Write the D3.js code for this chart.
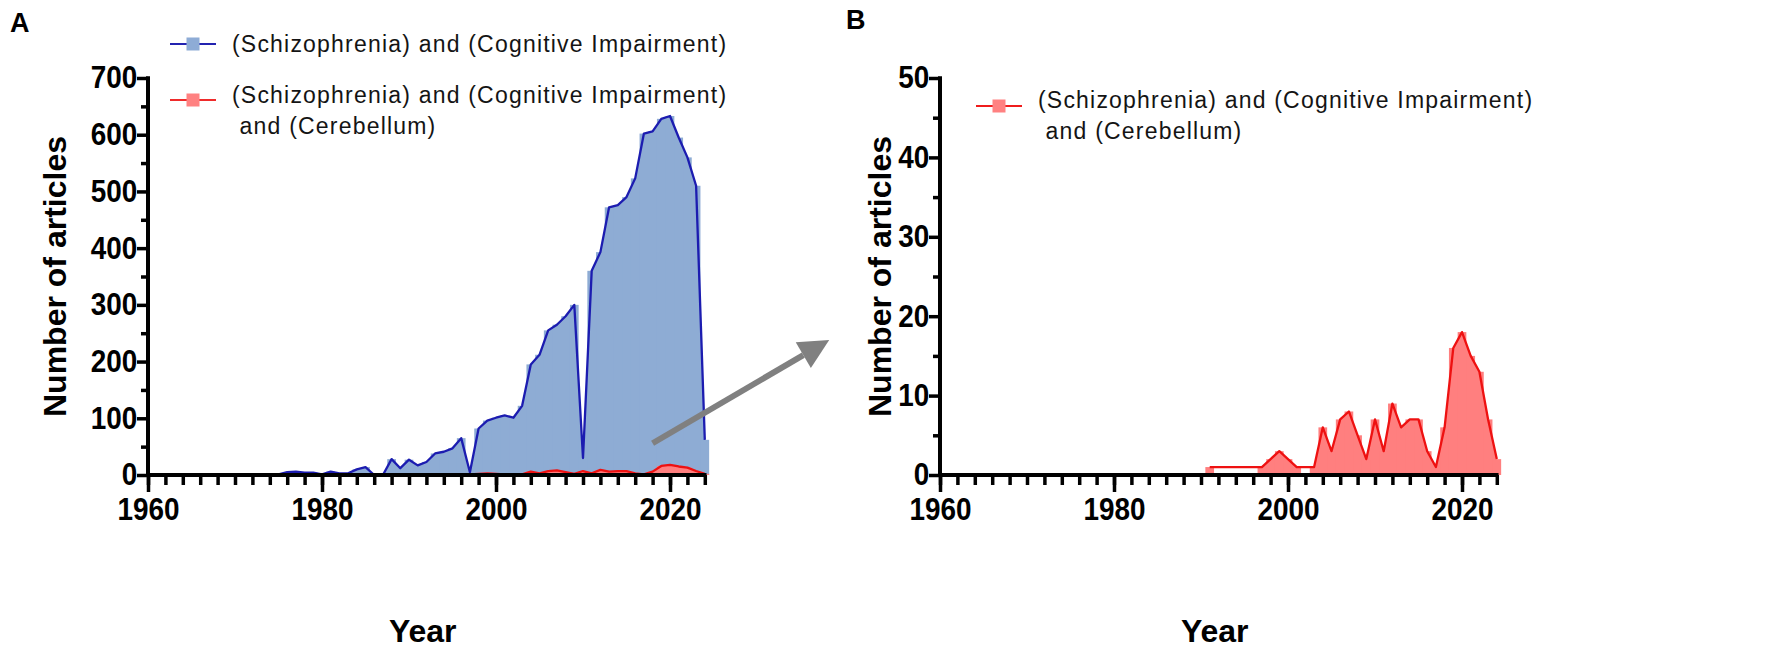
<!DOCTYPE html>
<html>
<head>
<meta charset="utf-8">
<script src="https://cdn.jsdelivr.net/npm/d3@7"></script>
<style>
  body { margin: 0; background: #fff; }
  svg { display: block; }
  .tick-label { font-family: "Liberation Sans", Arial, sans-serif; font-weight: bold; font-size: 31px; fill: #000; }
  .axis-title { font-family: "Liberation Sans", Arial, sans-serif; font-weight: bold; font-size: 32px; fill: #000; }
  .legend-text { font-family: "Liberation Sans", Arial, sans-serif; font-size: 23px; letter-spacing: 1.2px; fill: #141414; }
  .panel-letter { font-family: "Liberation Sans", Arial, sans-serif; font-weight: bold; font-size: 27px; fill: #000; }
</style>
</head>
<body>
<div id="chart"></div>
<script>
// years 1960..2024
const years = d3.range(1960, 2025);

// (Schizophrenia) and (Cognitive Impairment)
const cognitiveCounts = [
  0, 0, 0, 0, 0, 0, 0, 0, 0, 0,          // 1960-1969
  0, 0, 0, 0, 0, 1, 5, 6, 4, 4,          // 1970-1979
  1, 6, 3, 3, 10, 14, 0, 0, 28, 12,      // 1980-1989
  27, 17, 23, 38, 41, 47, 65, 5, 82, 96, // 1990-1999
  101, 105, 101, 122, 195, 212, 255, 265, 280, 300, // 2000-2009
  30, 360, 393, 472, 476, 490, 523, 602, 606, 628,  // 2010-2019
  633, 595, 560, 510, 62                 // 2020-2024
];

// (Schizophrenia) and (Cognitive Impairment) and (Cerebellum), null = no record
const cerebellumCounts = [
  null, null, null, null, null, null, null, null, null, null, // 1960-1969
  null, null, null, null, null, null, null, null, null, null, // 1970-1979
  null, null, null, null, null, null, null, null, null, null, // 1980-1989
  null, 1, null, null, null, null, null, 1, 2, 3,             // 1990-1999
  2, 1, null, 1, 6, 3, 7, 8, 5, 2,                            // 2000-2009
  7, 3, 9, 6, 7, 7, 3, 1, 6, 16,                              // 2010-2019
  18, 15, 13, 7, 2                                            // 2020-2024
];

const xTickMajor = [1960, 1980, 2000, 2020];
const xTickMinor = d3.range(1960, 2025, 2);
const yTicksA = [0, 100, 200, 300, 400, 500, 600, 700];
const yMinorA = d3.range(50, 700, 100);
const yTicksB = [0, 10, 20, 30, 40, 50];
const yMinorB = d3.range(5, 50, 10);

const legendA = [
  { lines: ["(Schizophrenia) and (Cognitive Impairment)"], line: "#2323b0", fill: "#8eacd6" },
  { lines: ["(Schizophrenia) and (Cognitive Impairment)", " and (Cerebellum)"], line: "#ef2b2b", fill: "#ff8181" }
];
const legendB = [
  { lines: ["(Schizophrenia) and (Cognitive Impairment)", " and (Cerebellum)"], line: "#ef1c1c", fill: "#ff8181" }
];

const W = 1772, H = 656;
const svg = d3.select("#chart").append("svg")
  .attr("width", W)
  .attr("height", H);

const drawSeries = (g, x, y, values, lineColour, fillColour) => {
  const data = years.map((yr, i) => ({ year: yr, value: values[i] }));
  const present = data.filter(d => d.value !== null);
  const bw = x(1) - x(0);

  g.append("path")
    .datum(data)
    .attr("fill", fillColour)
    .attr("d", d3.area()
      .defined(d => d.value !== null)
      .x(d => x(d.year))
      .y0(y(0))
      .y1(d => y(d.value)));

  g.selectAll(null)
    .data(present)
    .join("rect")
    .attr("x", d => x(d.year - 0.5))
    .attr("width", bw)
    .attr("y", d => y(d.value))
    .attr("height", d => y(0) - y(d.value))
    .attr("fill", fillColour);

  g.append("path")
    .datum(present)
    .attr("fill", "none")
    .attr("stroke", lineColour)
    .attr("stroke-width", 2.3)
    .attr("stroke-linejoin", "round")
    .attr("d", d3.line().x(d => x(d.year)).y(d => y(d.value)));
};

const drawAxes = (g, x, y, yMajor, yMinor) => {
  const x0 = x.range()[0];
  const y0 = y.range()[0];

  const xMinorAxis = g.append("g")
    .attr("transform", `translate(0,${y0})`)
    .call(d3.axisBottom(x).tickValues(xTickMinor).tickSize(10).tickFormat(""));
  const xMajorAxis = g.append("g")
    .attr("transform", `translate(0,${y0})`)
    .call(d3.axisBottom(x).tickValues(xTickMajor).tickSize(17).tickPadding(6).tickFormat(d3.format("d")));

  const yMinorAxis = g.append("g")
    .attr("transform", `translate(${x0},0)`)
    .call(d3.axisLeft(y).tickValues(yMinor).tickSize(7).tickFormat(""));
  const yMajorAxis = g.append("g")
    .attr("transform", `translate(${x0},0)`)
    .call(d3.axisLeft(y).tickValues(yMajor).tickSize(11).tickPadding(1));

  [xMinorAxis, xMajorAxis, yMinorAxis, yMajorAxis].forEach(a => {
    a.select(".domain").remove();
    a.selectAll("line").attr("stroke", "#000").attr("stroke-width", 3.5);
    a.selectAll("text")
      .attr("class", "tick-label")
      .attr("font-size", null)
      .attr("font-family", null)
      .attr("transform", "scale(0.9,1)");
  });

  // axis lines, drawn last so they sit over the fills
  g.append("line")
    .attr("x1", x0 - 1.75).attr("x2", x(2024) + 1.75)
    .attr("y1", y0).attr("y2", y0)
    .attr("stroke", "#000").attr("stroke-width", 4);
  g.append("line")
    .attr("x1", x0).attr("x2", x0)
    .attr("y1", y.range()[1] - 1.75).attr("y2", y0)
    .attr("stroke", "#000").attr("stroke-width", 4);
};

const drawLegend = (g, items, lx, ly, gap, lineGap, symShift) => {
  let cy = ly;
  items.forEach(item => {
    const sy = item.lines.length > 1 ? cy + symShift : cy;
    g.append("line")
      .attr("x1", lx).attr("x2", lx + 46)
      .attr("y1", sy).attr("y2", sy)
      .attr("stroke", item.line).attr("stroke-width", 2.2);
    g.append("rect")
      .attr("x", lx + 16.5).attr("y", sy - 6.5)
      .attr("width", 13).attr("height", 13)
      .attr("fill", item.fill);
    const t = g.append("text")
      .attr("class", "legend-text")
      .attr("x", lx + 62)
      .attr("y", cy + 8)
      .attr("xml:space", "preserve");
    item.lines.forEach((s, i) => {
      t.append("tspan").attr("x", lx + 62).attr("dy", i === 0 ? 0 : lineGap).text(s);
    });
    cy += gap;
  });
};

// ---- panel A ----
const xA = d3.scaleLinear().domain([1960, 2025]).range([148, 713.5]);
const yA = d3.scaleLinear().domain([0, 700]).range([475, 78]);
const gA = svg.append("g");

drawSeries(gA, xA, yA, cognitiveCounts, "#1c1cb0", "#8eacd4");
drawSeries(gA, xA, yA, cerebellumCounts, "#ee1111", "#ff7f7f");
drawAxes(gA, xA, yA, yTicksA, yMinorA);

gA.append("text").attr("class", "axis-title")
  .attr("transform", `translate(66,${(yA(0) + yA(700)) / 2}) rotate(-90)`)
  .attr("text-anchor", "middle")
  .text("Number of articles");
gA.append("text").attr("class", "axis-title")
  .attr("x", (xA(1960) + xA(2025)) / 2 - 8).attr("y", 642)
  .attr("text-anchor", "middle")
  .text("Year");
gA.append("text").attr("class", "panel-letter").attr("x", 10).attr("y", 32).text("A");
drawLegend(gA, legendA, 170, 44, 51, 31, 5);

// arrow from panel A towards panel B, placed in panel A's data space
const arrowFrom = [2018, 56], arrowTo = [2038.3, 238];
const ax1 = xA(arrowFrom[0]), ay1 = yA(arrowFrom[1]);
const ax2 = xA(arrowTo[0]), ay2 = yA(arrowTo[1]);
const ang = Math.atan2(ay2 - ay1, ax2 - ax1);
const headLen = 30, headHalf = 15;
const bx = ax2 - headLen * Math.cos(ang), by = ay2 - headLen * Math.sin(ang);
svg.append("line")
  .attr("x1", ax1).attr("y1", ay1).attr("x2", bx).attr("y2", by)
  .attr("stroke", "#808080").attr("stroke-width", 6);
svg.append("path")
  .attr("d", `M${ax2},${ay2} L${bx + headHalf * Math.sin(ang)},${by - headHalf * Math.cos(ang)} L${bx - headHalf * Math.sin(ang)},${by + headHalf * Math.cos(ang)} Z`)
  .attr("fill", "#808080");

// ---- panel B ----
const xB = d3.scaleLinear().domain([1960, 2025]).range([940, 1505.5]);
const yB = d3.scaleLinear().domain([0, 50]).range([475, 78]);
const gB = svg.append("g");

drawSeries(gB, xB, yB, cerebellumCounts, "#ee1111", "#ff7f7f");
drawAxes(gB, xB, yB, yTicksB, yMinorB);

gB.append("text").attr("class", "axis-title")
  .attr("transform", `translate(891,${(yB(0) + yB(50)) / 2}) rotate(-90)`)
  .attr("text-anchor", "middle")
  .text("Number of articles");
gB.append("text").attr("class", "axis-title")
  .attr("x", (xB(1960) + xB(2025)) / 2 - 8).attr("y", 642)
  .attr("text-anchor", "middle")
  .text("Year");
gB.append("text").attr("class", "panel-letter").attr("x", 846).attr("y", 29).text("B");
drawLegend(gB, legendB, 976, 100, 51, 31, 6);
</script>
</body>
</html>
